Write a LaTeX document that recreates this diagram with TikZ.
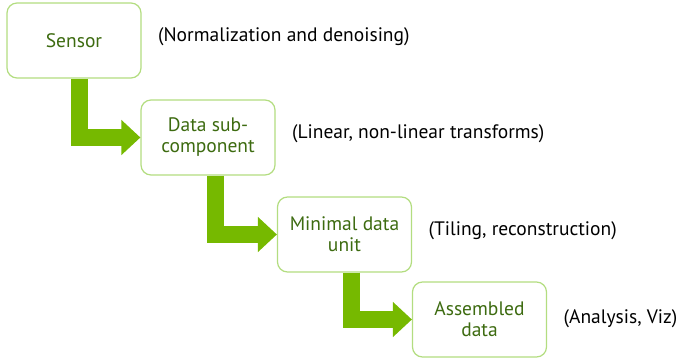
\documentclass[tikz,border=0pt]{standalone}
\usepackage{fontspec}
\setmainfont{PT Sans}
\usetikzlibrary{positioning}
\usetikzlibrary{arrows.meta}
\definecolor{leafgreen}{HTML}{76B900}
\definecolor{rimgreen}{HTML}{B3DD80}
\definecolor{inkgreen}{HTML}{3D6B10}
\tikzset{
    stage/.style={draw=rimgreen, line width=1.2pt, fill=white, rounded corners=10pt,
        minimum width=134pt, minimum height=75pt, align=center,
        text=inkgreen, font=\fontsize{19.5pt}{21pt}\selectfont},
    note/.style={right=13pt of #1, yshift=4pt, font=\fontsize{19.5pt}{21pt}\selectfont},
    flow/.style={leafgreen, line width=17pt, line join=miter,
        -{Triangle[length=19pt, width=34pt]}},
}
\begin{document}
\begin{tikzpicture}[x=1pt, y=1pt]
        \useasboundingbox (0, 0) rectangle (688, 359);

        \node[stage] (sensor) at (74, 318.5) {Sensor};
        \node[stage] (subcomp) at (208, 221.5) {Data sub-\\component};
        \node[stage] (unit) at (344.5, 124.5) {Minimal data\\unit};
        \node[stage] (assembled) at (479.5, 39.5) {Assembled\\data};

        \draw[flow] ([xshift=5pt]sensor.south) |- (subcomp.west);
        \draw[flow] ([xshift=7pt]subcomp.south) |- (unit.west);
        \draw[flow] ([xshift=7pt]unit.south) |- (assembled.west);

        \node[note=sensor] (normnote) {(Normalization and denoising)};
        \node[note=subcomp] (transnote) {(Linear, non-linear transforms)};
        \node[note=unit] (tilenote) {(Tiling, reconstruction)};
        \node[note=assembled, yshift=-3pt] (viznote) {(Analysis, Viz)};
    \end{tikzpicture}
\end{document}
